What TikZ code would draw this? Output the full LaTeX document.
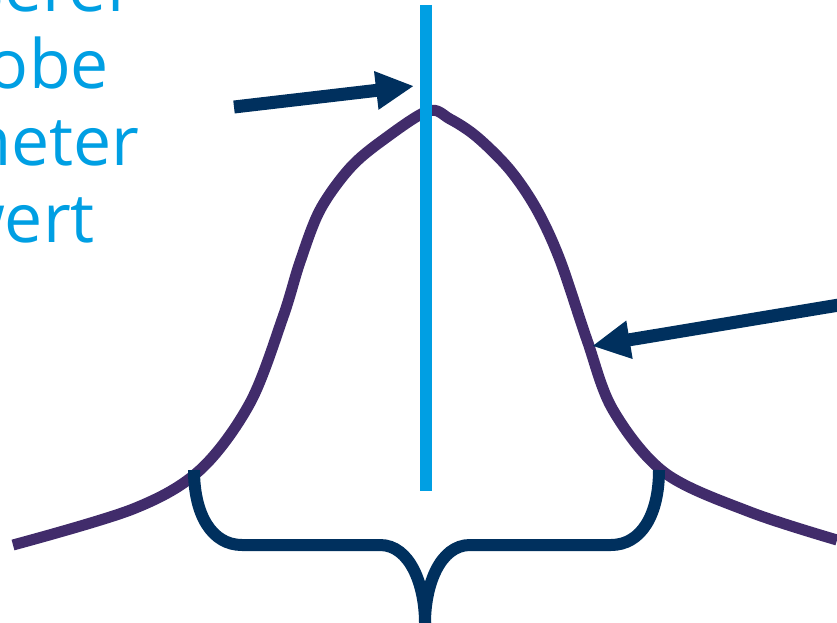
\documentclass[tikz,border=0pt]{standalone}
\usepackage{fontspec}
\setmainfont{Open Sans}
\usetikzlibrary{arrows.meta}
\definecolor{cyanline}{HTML}{009FE3}
\definecolor{bellpurple}{HTML}{412C6B}
\definecolor{navy}{HTML}{00305E}
\tikzset{
  lbl/.style={anchor=base east, inner sep=0pt, text=cyanline, font=\fontsize{68}{78}\selectfont},
  bell/.style={draw=bellpurple, line width=11pt, line cap=butt, line join=round},
  meanline/.style={draw=cyanline, line width=12pt},
  pointer/.style={draw=navy, line width=13pt, -{Triangle[length=38pt,width=36pt]}},
  bracestyle/.style={draw=navy, line width=12pt, line join=round}
}
\begin{document}
\begin{tikzpicture}[x=1pt,y=-1pt]
\useasboundingbox (0,0) rectangle (837,623);
\begin{scope}
\clip (0,0) rectangle (837,623);
\node[lbl] (l1) at (135,12) {unserer};
\node[lbl] (l2) at (109,89) {Stichprobe};
\node[lbl] (l3) at (140,165) {Parameter};
\node[lbl] (l4) at (95,242) {Mittelwert};
\end{scope}
% bell curve
\draw[bell] plot[smooth, tension=0.55] coordinates {
 (13,545) (133,509) (200,470) (250,403) (283,317)
 (300,262) (320,210) (350,168) (383,140) (428,111)
 (450,119) (477,137) (510,170) (537,210) (560,260) (587,340) (613,410)
 (665,473) (750,512) (837,540)};
% mean line
\coordinate (mtop) at (426,5);
\coordinate (mbot) at (426,491);
\draw[meanline] (mtop) -- (mbot);
% brace
\coordinate (bl) at (194,470);
\coordinate (br) at (659,470);
\coordinate (btip) at (425,623);
\draw[bracestyle] (bl) .. controls (194,515) and (212,545) .. (242,545)
  -- (380,545) .. controls (410,545) and (425,585) .. (btip);
\draw[bracestyle] (br) .. controls (659,515) and (641,545) .. (611,545)
  -- (470,545) .. controls (440,545) and (425,585) .. (btip);
% arrows
\coordinate (a1s) at (234,107);
\coordinate (a1e) at (414,86);
\draw[pointer] (a1s) -- (a1e);
\coordinate (a2s) at (845,304);
\coordinate (a2e) at (592,346);
\draw[pointer] (a2s) -- (a2e);
\end{tikzpicture}
\end{document}
